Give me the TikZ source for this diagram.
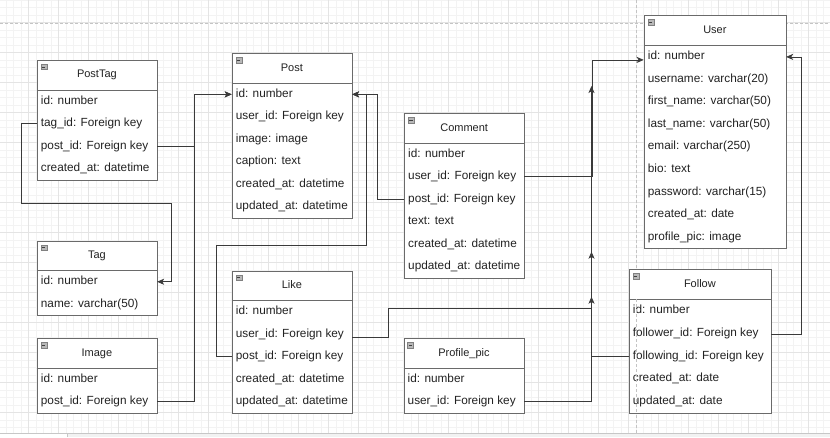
\documentclass[tikz,border=0pt]{standalone}
\usepackage{fontspec}
\setmainfont{Liberation Sans}
\usetikzlibrary{arrows.meta}
\definecolor{boxline}{HTML}{6A6A6A}
\definecolor{edgec}{HTML}{3A3A3A}
\definecolor{gridmin}{HTML}{F3F3F3}
\definecolor{gridmaj}{HTML}{E4E4E4}
\definecolor{txt}{HTML}{222222}
\definecolor{pagec}{HTML}{C4C4C4}
\tikzset{
  entbox/.style={draw=boxline, line width=0.8pt, fill=white, inner sep=0pt, anchor=north west},
  hdr/.style={inner sep=0pt, minimum height=29.6pt, font=\fontsize{11}{13}\selectfont, text=txt,
    text height=8pt, text depth=2.3pt, anchor=north west},
  rowc/.style={inner xsep=4pt, inner ysep=0pt, minimum height=22.5pt, font=\fontsize{11.8}{14}\selectfont,
    text=txt, text height=8.6pt, text depth=2.6pt, anchor=north west},
  icon/.style={fill=black!28, draw=black!50, line width=0.4pt},
  conn/.style={draw=edgec, line width=0.8pt},
  arr/.style={conn, -{Stealth[length=7pt,width=6pt,inset=1.8pt]}},
  pageline/.style={draw=pagec, line width=0.8pt, dash pattern=on 3pt off 2pt},
}
% #1 name, #2 left, #3 top, #4 width, #5 rows count, #6 title, #7 rows, #8 row height
\newcommand\mkentity[8]{%
  \pgfmathsetmacro\entH{29.6+#8*#5}%
  \pgfmathsetmacro\entTW{#4-8}%
  \node[entbox, minimum width=#4pt, minimum height=\entH pt] (#1) at (#2,#3) {};
  \node[hdr, minimum width=#4pt] (#1-h) at (#2,#3) {#6};
  \draw[boxline, line width=0.8pt] (#1-h.south west) -- (#1-h.south east);
  \draw[icon] (#2+4,#3+4) rectangle (#2+10,#3+9.5);
  \draw[black!75, line width=0.5pt] (#2+5.3,#3+6.75) -- (#2+8.7,#3+6.75);
  \foreach \r [count=\i] in {#7} {
    \node[rowc, minimum height=#8pt] (#1-\i) at (#2,#3+29.6+#8*\i-#8) {\makebox[\entTW pt][l]{\r}};
  }%
}
\begin{document}
\begin{tikzpicture}[x=1pt,y=-1pt]
\useasboundingbox (0,0) rectangle (830,437);
\fill[white] (0,0) rectangle (830,437);
% grid
\begin{scope}
  \clip (0,0) rectangle (830,433.3);
  \draw[gridmin, line width=0.5pt, shift={(28.3,22.3)}, step=7.5pt] (-60,450) grid (840,-60);
  \draw[gridmaj, line width=0.6pt, shift={(28.3,22.3)}, step=30pt] (-60,450) grid (840,-60);
\end{scope}
% page break lines
\draw[pageline] (0,23.3) -- (830,23.3);
\draw[pageline] (636,0) -- (636,433.3);
% bottom strip
\fill[black!5] (67,433.3) rectangle (830,437);
\draw[black!22, line width=0.6pt] (0,433.3) -- (830,433.3);
\draw[black!22, line width=0.6pt] (67,433.3) -- (67,437);

% entities
\mkentity{PostTag}{36.7}{60}{120}{4}{PostTag}{id: number, tag\_id: Foreign key, post\_id: Foreign key, created\_at: datetime}{22.5}
\mkentity{Post}{231.7}{53.3}{120}{6}{Post}{id: number, user\_id: Foreign key, image: image, caption: text, created\_at: datetime, updated\_at: datetime}{22.5}
\mkentity{Comment}{404}{113.3}{120}{6}{Comment}{id: number, user\_id: Foreign key, post\_id: Foreign key, text: text, created\_at: datetime, updated\_at: datetime}{22.5}
\mkentity{User}{643.7}{15.3}{142}{9}{User}{id: number, username: varchar(20), first\_name: varchar(50), last\_name: varchar(50), email: varchar(250), bio: text, password: varchar(15), created\_at: date, profile\_pic: image}{22.6}
\mkentity{Tag}{36.7}{240.7}{120}{2}{Tag}{id: number, name: varchar(50)}{22.5}
\mkentity{Image}{36.7}{338.3}{120}{2}{Image}{id: number, post\_id: Foreign key}{22.5}
\mkentity{Like}{231.7}{270.7}{120}{5}{Like}{id: number, user\_id: Foreign key, post\_id: Foreign key, created\_at: datetime, updated\_at: datetime}{22.5}
\mkentity{Prof}{403.5}{338.3}{120.5}{2}{Profile\_pic}{id: number, user\_id: Foreign key}{22.5}
\mkentity{Follow}{628.7}{269.3}{142}{5}{Follow}{id: number, follower\_id: Foreign key, following\_id: Foreign key, created\_at: date, updated\_at: date}{22.8}

% page line visible through Follow rows
\draw[pageline] (636,299.3) -- (636,412.9);

% bend coordinates
\coordinate (bendA) at (171.7,203.3);
\coordinate (bendB) at (366.7,245.7);
\coordinate (bendC) at (591.5,308.3);
\coordinate (up1) at (591.5,86);
\coordinate (up2) at (591.5,251.7);
\coordinate (up3) at (591.5,296.7);

% connectors
\draw[arr] (PostTag-3.east) -- ++(37.3,0) |- (Post-1.west);
\draw[arr] (Image-2.east) -- ++(37.3,0) |- (Post-1.west);
\draw[arr] (PostTag-2.west) -- ++(-15,0) |- (bendA) |- (Tag-1.east);
\draw[arr] (Comment-3.west) -- ++(-26.5,0) |- (Post-1.east);
\draw[arr] (Like-3.west) -- ++(-15.7,0) |- (bendB) |- (Post-1.east);
\draw[arr] (Comment-2.east) -- ++(67.5,0) |- ([yshift=-3.5pt]User-1.west);
\draw[arr] (Follow-3.west) -| (up1);
\draw[arr] (Prof-2.east) -| (up2);
\draw[arr] ([yshift=-3pt]Like-2.east) -- ++(36.6,0) |- (bendC) -- (up3);
\draw[arr] ([yshift=-1.5pt]Follow-2.east) -- ++(30,0) |- ([yshift=-0.5pt]User-1.east);
\end{tikzpicture}
\end{document}
